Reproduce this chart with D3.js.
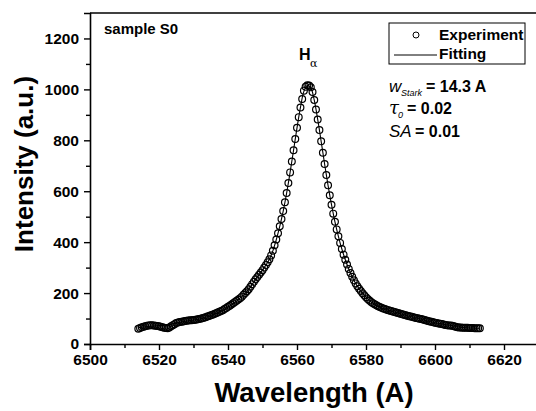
<!DOCTYPE html>
<html>
<head>
<meta charset="utf-8">
<script src="https://cdn.jsdelivr.net/npm/d3@7"></script>
<style>
  html, body { margin: 0; padding: 0; background: #fff; }
  svg { display: block; }
  text { font-family: "Liberation Sans", Arial, Helvetica, sans-serif; fill: #000; }
</style>
</head>
<body>
<svg id="chart" width="536" height="411"></svg>
<script>
// ---------- data ----------
const expWavelength = [
6514,6514.5,6515,6515.5,6516,6516.5,6517,6517.5,6518,6518.5,6519,6519.5,6520,6520.5,6521,6521.5,6522,6522.5,6523,6523.5,
6524,6524.5,6525,6525.5,6526,6526.5,6527,6527.5,6528,6528.5,6529,6529.5,6530,6530.5,6531,6531.5,6532,6532.5,6533,6533.5,
6534,6534.5,6535,6535.5,6536,6536.5,6537,6537.5,6538,6538.5,6539,6539.5,6540,6540.5,6541,6541.5,6542,6542.5,6543,6543.5,
6544,6544.5,6545,6545.5,6546,6546.5,6547,6547.5,6548,6548.5,6549,6549.5,6550,6550.5,6551,6551.5,6552,6552.5,6553,6553.5,
6554,6554.5,6555,6555.5,6556,6556.5,6557,6557.5,6558,6558.5,6559,6559.5,6560,6560.5,6561,6561.5,6562,6562.5,6563,6563.5,
6564,6564.5,6565,6565.5,6566,6566.5,6567,6567.5,6568,6568.5,6569,6569.5,6570,6570.5,6571,6571.5,6572,6572.5,6573,6573.5,
6574,6574.5,6575,6575.5,6576,6576.5,6577,6577.5,6578,6578.5,6579,6579.5,6580,6580.5,6581,6581.5,6582,6582.5,6583,6583.5,
6584,6584.5,6585,6585.5,6586,6586.5,6587,6587.5,6588,6588.5,6589,6589.5,6590,6590.5,6591,6591.5,6592,6592.5,6593,6593.5,
6594,6594.5,6595,6595.5,6596,6596.5,6597,6597.5,6598,6598.5,6599,6599.5,6600,6600.5,6601,6601.5,6602,6602.5,6603,6603.5,
6604,6604.5,6605,6605.5,6606,6606.5,6607,6607.5,6608,6608.5,6609,6609.5,6610,6610.5,6611,6611.5,6612,6612.5,6613
];
const expIntensity = [
60,63,66,68,70,72,73,74,74,73,72,71,70,68,66,64,63,62,65,70,
74,78,82,84,86,87,88,90,91,92,93,93,94,95,96,98,99,101,103,105,
108,110,113,115,118,121,124,127,130,133,137,141,146,150,155,160,165,170,175,180,
186,193,200,207,215,225,235,244,254,263,272,281,290,300,310,321,333,348,366,388,
410,435,462,491,522,557,593,632,674,717,761,805,849,891,929,962,995,1010,1016,1015,
1008,990,958,921,882,840,796,751,707,664,623,584,547,512,480,450,423,397,373,351,
331,312,295,279,264,250,238,227,217,208,199,191,184,177,171,165,160,156,152,148,
145,142,139,137,135,133,131,129,127,125,123,121,119,117,115,113,111,109,108,106,
104,102,101,99,98,96,94,92,90,88,87,85,83,82,81,80,79,77,75,74,
73,73,72,70,68,66,65,65,64,64,64,64,63,63,63,62,62,62,62
];
const fitWavelength = [
6514,6515,6516,6517,6518,6519,6520,6521,6522,6523,6524,6525,6526,6527,6528,6529,6530,6531,6532,6533,
6534,6535,6536,6537,6538,6539,6540,6541,6542,6543,6544,6545,6546,6547,6548,6549,6550,6551,6552,6553,
6554,6555,6556,6557,6558,6559,6560,6561,6562,6563,6564,6565,6566,6567,6568,6569,6570,6571,6572,6573,
6574,6575,6576,6577,6578,6579,6580,6581,6582,6583,6584,6585,6586,6587,6588,6589,6590,6591,6592,6593,
6594,6595,6596,6597,6598,6599,6600,6601,6602,6603,6604,6605,6606,6607,6608,6609,6610,6611,6612,6613
];
const fitIntensity = [
64,66,68,69,70,71,72,73,75,77,79,82,85,88,90,92,94,96,99,103,
107,112,117,123,129,136,144,153,163,174,186,199,214,234,254,272,290,310,333,366,
410,462,522,593,674,761,849,929,992,1015,1006,958,882,796,707,623,547,480,423,373,
331,295,264,238,217,199,184,171,160,152,145,139,135,131,127,123,119,115,111,108,
104,101,98,94,90,87,83,81,79,76,74,72,69,67,65,64,63,63,62,62
];
const xTicks = [6500, 6520, 6540, 6560, 6580, 6600, 6620];
const xMinorTicks = [6510, 6530, 6550, 6570, 6590, 6610];
const yTicks = [0, 200, 400, 600, 800, 1000, 1200];
const yMinorTicks = [100, 300, 500, 700, 900, 1100];
const seriesNames = ["Experiment", "Fitting"];

// ---------- layout ----------
const svg = d3.select("#chart");
const mLeft = 90, mRight = 538.5, mTop = 13, mBottom = 344;
const x = d3.scaleLinear().domain([6500, 6630]).range([mLeft, mRight]);
const y = d3.scaleLinear().domain([0, 1300]).range([mBottom, mTop]);

// frame (top and right)
svg.append("line").attr("x1", mLeft).attr("x2", mRight).attr("y1", mTop).attr("y2", mTop)
  .attr("stroke", "#000").attr("stroke-width", 1.6);
svg.append("line").attr("x1", mRight).attr("x2", mRight).attr("y1", mTop).attr("y2", mBottom)
  .attr("stroke", "#000").attr("stroke-width", 1.6);

// axes
const tickFont = "bold 15.5px 'Liberation Sans', Arial, sans-serif";
svg.append("g").attr("transform", `translate(0,${mBottom})`)
  .call(d3.axisBottom(x).tickValues(xTicks).tickFormat(d3.format("d")).tickSize(6).tickPadding(4));
svg.append("g").attr("transform", `translate(0,${mBottom})`)
  .call(d3.axisBottom(x).tickValues(xMinorTicks).tickFormat("").tickSize(4))
  .call(g => g.select(".domain").remove());
svg.append("g").attr("transform", `translate(${mLeft},0)`)
  .call(d3.axisLeft(y).tickValues(yTicks).tickFormat(d3.format("d")).tickSize(6).tickPadding(5));
svg.append("g").attr("transform", `translate(${mLeft},0)`)
  .call(d3.axisLeft(y).tickValues(yMinorTicks).tickFormat("").tickSize(4))
  .call(g => g.select(".domain").remove());

svg.selectAll(".domain").attr("stroke", "#000").attr("stroke-width", 1.6);
svg.selectAll(".tick line").attr("stroke", "#000").attr("stroke-width", 1.4);
svg.selectAll(".tick text").style("font", tickFont).attr("fill", "#000");

// axis titles
svg.append("text").attr("x", 314).attr("y", 402).attr("text-anchor", "middle")
  .style("font", "bold 27.5px 'Liberation Sans', Arial, sans-serif").text("Wavelength (A)");
svg.append("text").attr("transform", "translate(33,164) rotate(-90)").attr("text-anchor", "middle")
  .style("font", "bold 26px 'Liberation Sans', Arial, sans-serif").text("Intensity (a.u.)");

// fitting line
const line = d3.line().x((d, i) => x(fitWavelength[i])).y(d => y(d)).curve(d3.curveCatmullRom);
svg.append("path").datum(fitIntensity).attr("d", line)
  .attr("fill", "none").attr("stroke", "#000").attr("stroke-width", 1.1);

// experiment points
svg.append("g").selectAll("circle").data(expIntensity).join("circle")
  .attr("cx", (d, i) => x(expWavelength[i])).attr("cy", d => y(d)).attr("r", 3.4)
  .attr("fill", "none").attr("stroke", "#000").attr("stroke-width", 1.2);

// annotations
svg.append("text").attr("x", 104).attr("y", 34)
  .style("font", "bold 15px 'Liberation Sans', Arial, sans-serif").text("sample S0");
svg.append("text").attr("x", 299).attr("y", 60)
  .style("font", "bold 16px 'Liberation Sans', Arial, sans-serif").text("H");
svg.append("text").attr("x", 310).attr("y", 67)
  .style("font", "11px 'DejaVu Serif', serif").text("α");

// legend
const lg = svg.append("g");
lg.append("rect").attr("x", 389).attr("y", 23).attr("width", 136).attr("height", 41)
  .attr("fill", "#fff").attr("stroke", "#000").attr("stroke-width", 1);
lg.append("circle").attr("cx", 416).attr("cy", 35).attr("r", 3)
  .attr("fill", "none").attr("stroke", "#000").attr("stroke-width", 1);
lg.append("line").attr("x1", 394).attr("x2", 437).attr("y1", 55).attr("y2", 55)
  .attr("stroke", "#000").attr("stroke-width", 1);
lg.selectAll("text.lab").data(seriesNames).join("text").attr("class", "lab")
  .attr("x", 439).attr("y", (d, i) => 40 + i * 19)
  .style("font", "bold 15.5px 'Liberation Sans', Arial, sans-serif").text(d => d);

// parameter text
const it = "italic 17px 'Liberation Sans', Arial, sans-serif";
const bd = "bold 16px 'Liberation Sans', Arial, sans-serif";
svg.append("text").attr("x", 389).attr("y", 92).style("font", it).text("w");
svg.append("text").attr("x", 401).attr("y", 96).style("font", "italic 9px 'Liberation Sans', Arial, sans-serif").text("Stark");
svg.append("text").attr("x", 426).attr("y", 92).style("font", bd).text("= 14.3 A");
svg.append("text").attr("x", 389).attr("y", 114).style("font", "italic 18px 'DejaVu Serif', serif").text("τ");
svg.append("text").attr("x", 398).attr("y", 118).style("font", "italic 9px 'Liberation Sans', Arial, sans-serif").text("0");
svg.append("text").attr("x", 407).attr("y", 114).style("font", bd).text("= 0.02");
svg.append("text").attr("x", 389).attr("y", 137).style("font", it).text("SA");
svg.append("text").attr("x", 415).attr("y", 137).style("font", bd).text("= 0.01");
</script>
</body>
</html>
